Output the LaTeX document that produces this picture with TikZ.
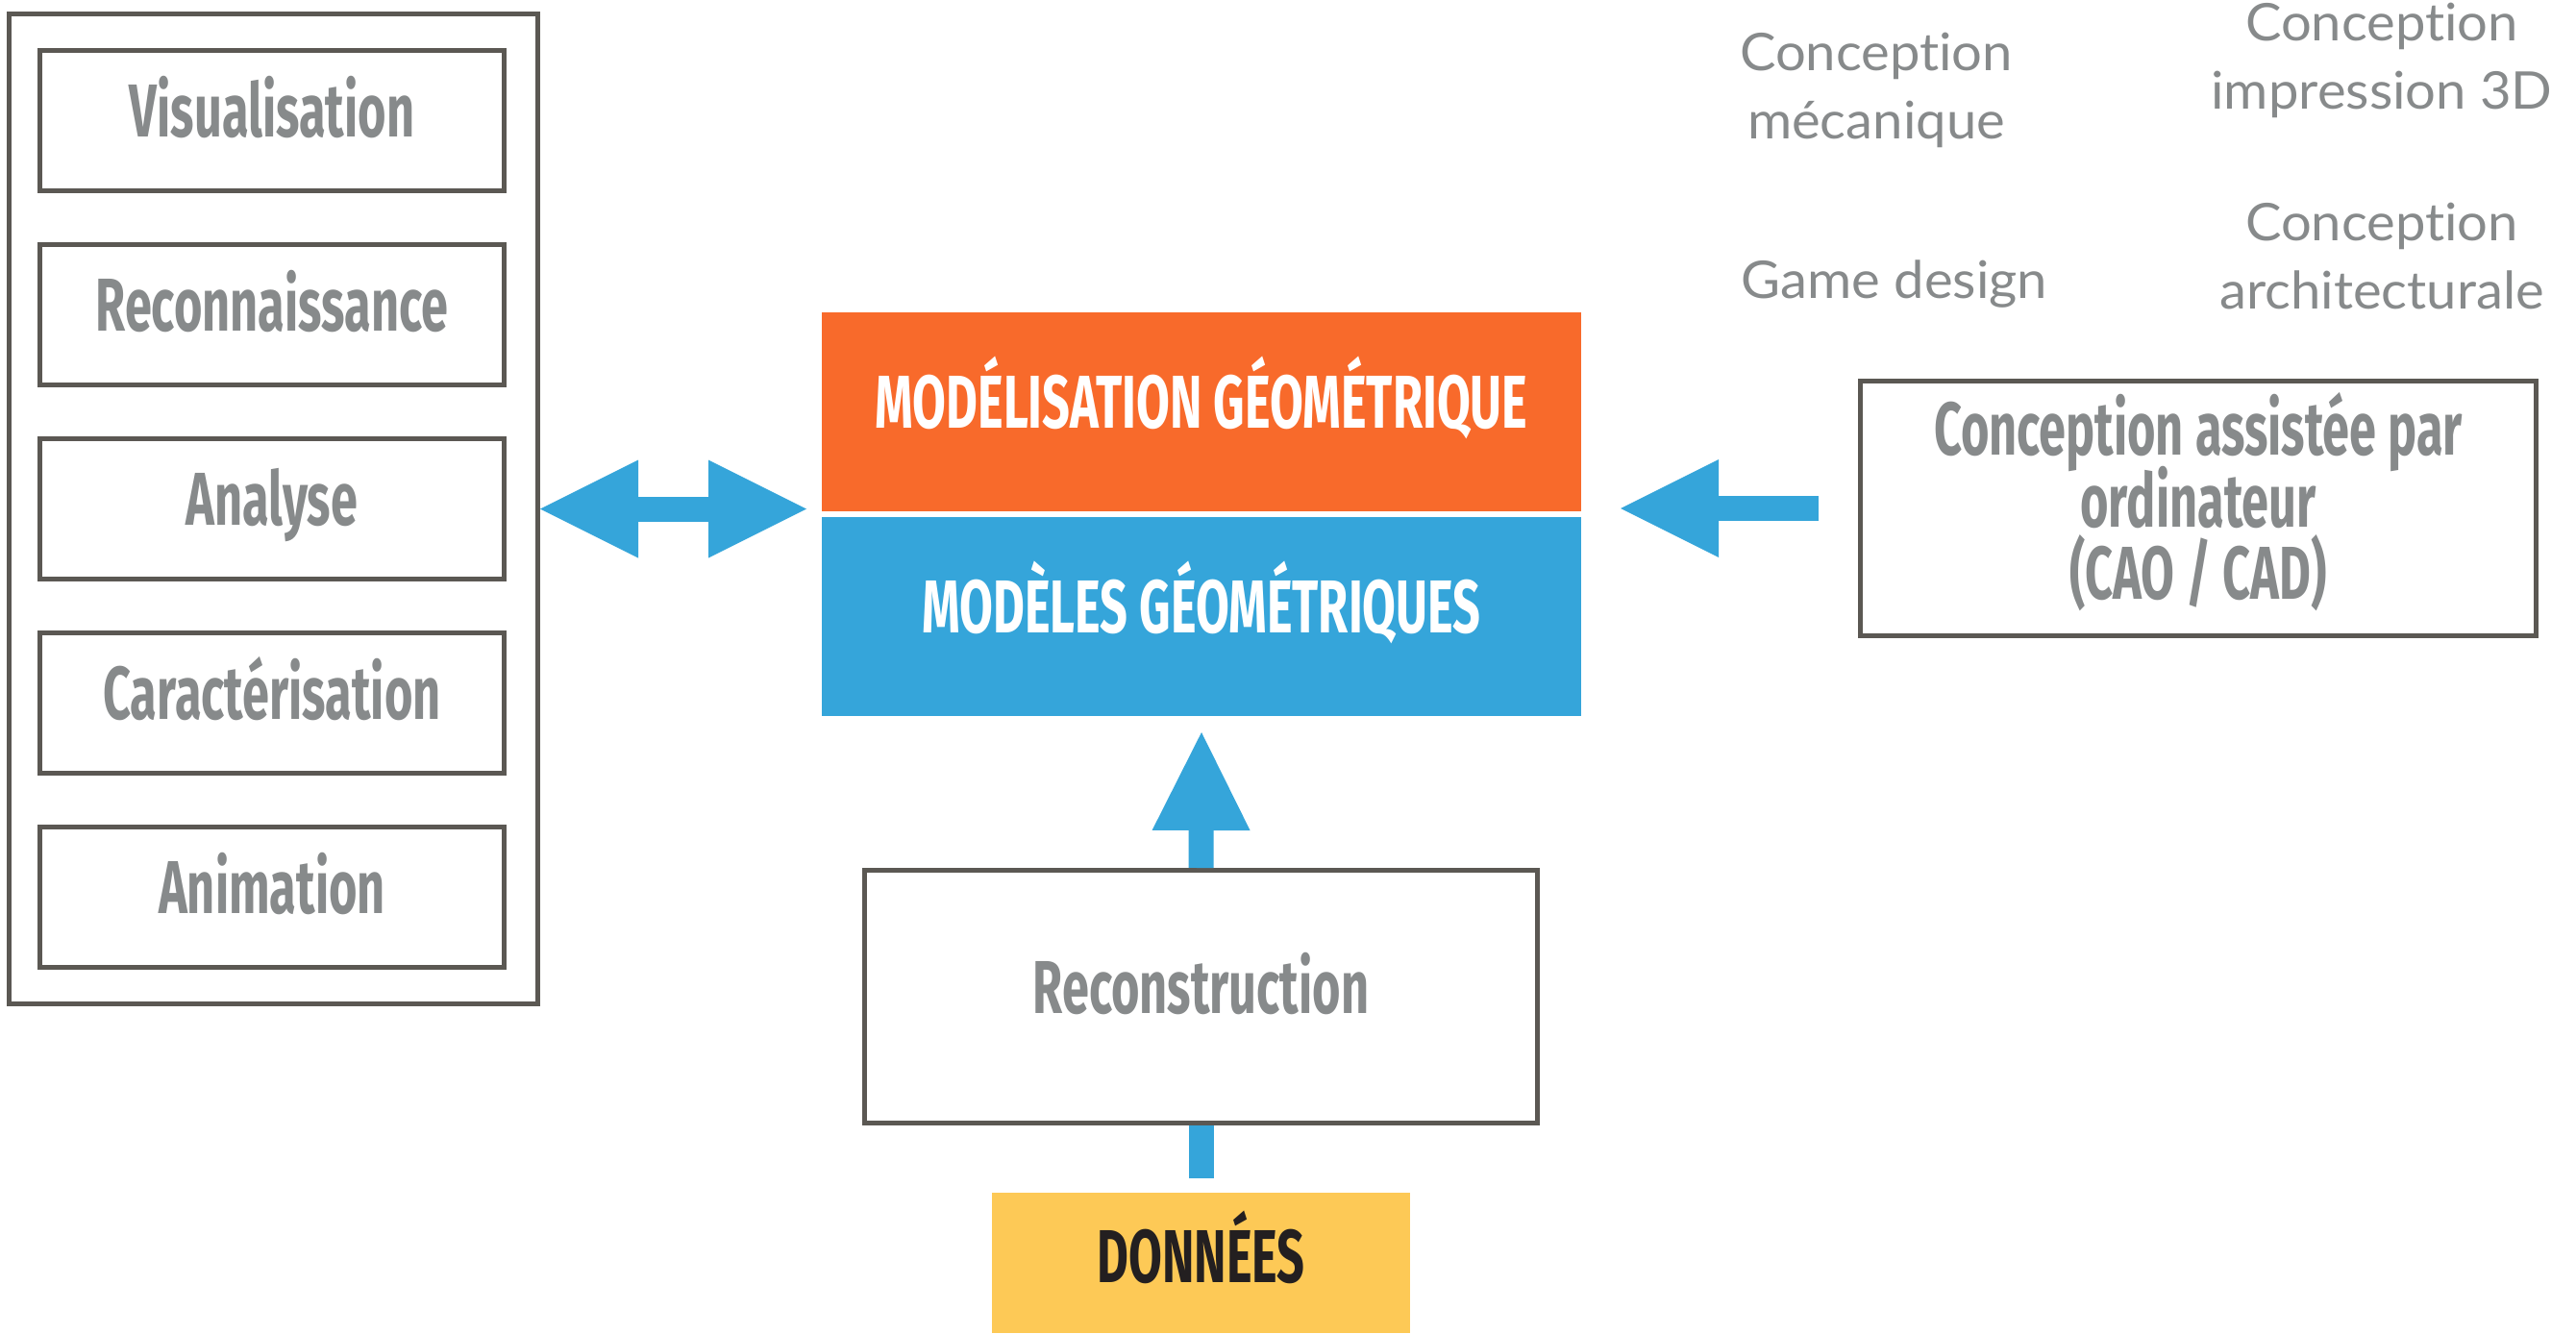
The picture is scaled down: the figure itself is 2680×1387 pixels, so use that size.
\documentclass[tikz,border=0pt]{standalone}
\usepackage{fontspec}
\usetikzlibrary{arrows.meta,calc}
\newfontfamily\condfont{Fira Sans}[FakeStretch=0.647]
\newfontfamily\softfont{Lato}[Ligatures={NoCommon,NoRequired,NoContextual}, FakeStretch=1.04]
\newcommand\tightlines{\lineskiplimit=-100pt\relax}
\definecolor{framegray}{HTML}{5B5853}
\definecolor{labelgray}{HTML}{878A8B}
\definecolor{flowblue}{HTML}{35A5DA}
\definecolor{modelorange}{HTML}{F86A2B}
\definecolor{datayellow}{HTML}{FDC956}
\definecolor{darkink}{HTML}{231F20}
\begin{document}
\begin{tikzpicture}[x=0.5pt,y=-0.5pt,
  frame/.style={draw=framegray, line width=2.5pt, inner sep=0pt},
  boxtext/.style={font=\condfont\bfseries\fontsize{39}{45}\selectfont,
    text height=27pt, text depth=10pt},
  item/.style={frame, boxtext, text=labelgray,
    minimum width=241.5pt, minimum height=73pt},
  solid block/.style={inner sep=0pt, outer sep=0pt, boxtext},
  shaft/.style={draw=flowblue, line width=13pt},
  >={Triangle[length=51pt 0 0, width=51pt 0 0, line width=0pt 0 0]},
  field/.style={font=\softfont\fontsize{27}{35.5}\selectfont\tightlines,
    text=labelgray, align=center, inner sep=0pt}]
\useasboundingbox[fill=white] (0,0) rectangle (2680,1387);

% application column
\node[frame, minimum width=275pt, minimum height=515pt] (apps) at (284.5,529.5) {};
\node[item] (visu)  at (283,125) {Visualisation};
\node[item] (recog) at (283,327) {Reconnaissance};
\node[item] (analy) at (283,529) {Analyse};
\node[item] (carac) at (283,731) {Caractérisation};
\node[item] (anim)  at (283,933) {Animation};

% central blocks
\node[solid block, fill=modelorange, text=white, minimum width=395pt,
  minimum height=103.5pt] (modeling) at (1250,428.5) {MODÉLISATION GÉOMÉTRIQUE};
\node[solid block, fill=flowblue, text=white, minimum width=395pt,
  minimum height=103.5pt] (models) at (1250,641.5) {MODÈLES GÉOMÉTRIQUES};

% acquisition chain
\node[frame, boxtext, text=labelgray, minimum width=350pt,
  minimum height=131.5pt] (recon) at (1249.5,1037) {Reconstruction};
\node[solid block, fill=datayellow, text=darkink, text depth=7pt,
  minimum width=217.5pt, minimum height=73pt] (data) at (1249.5,1314) {DONNÉES};

% computer aided design: frame, and its three-line title set slightly high
\node[frame, minimum width=351.5pt, minimum height=132.5pt] (cad) at (2287,529) {};
\node[text=labelgray, align=center, inner sep=0pt,
  font=\condfont\bfseries\fontsize{39}{37.5}\selectfont\tightlines]
  (cadtitle) at ($(cad.center)+(0,-7)$)
  {Conception assistée par\\ordinateur\\(CAO / CAD)};

% fields of application
\node[field] (meca) at (1952,93.5) {Conception\\mécanique};
\node[field, anchor=base] (game) at (1971,310) {Game design};
\node[field] (print) at (2478,62.5) {Conception\\impression 3D};
\node[field] (archi) at (2478,266.5) {Conception\\architecturale};

% block arrows
\draw[shaft, <->] (apps.east) -- ($(apps.east -| modeling.west)+(-16,0)$);
\draw[shaft, ->] ($(cad.west)+(-41,0)$) -- ($(cad.west -| models.east)+(41,0)$);
\draw[shaft, ->] (recon.north) -- ($(models.south)+(0,17)$);
\draw[shaft] (recon.south) -- ($(data.north)+(0,-15)$);
\end{tikzpicture}
\end{document}
